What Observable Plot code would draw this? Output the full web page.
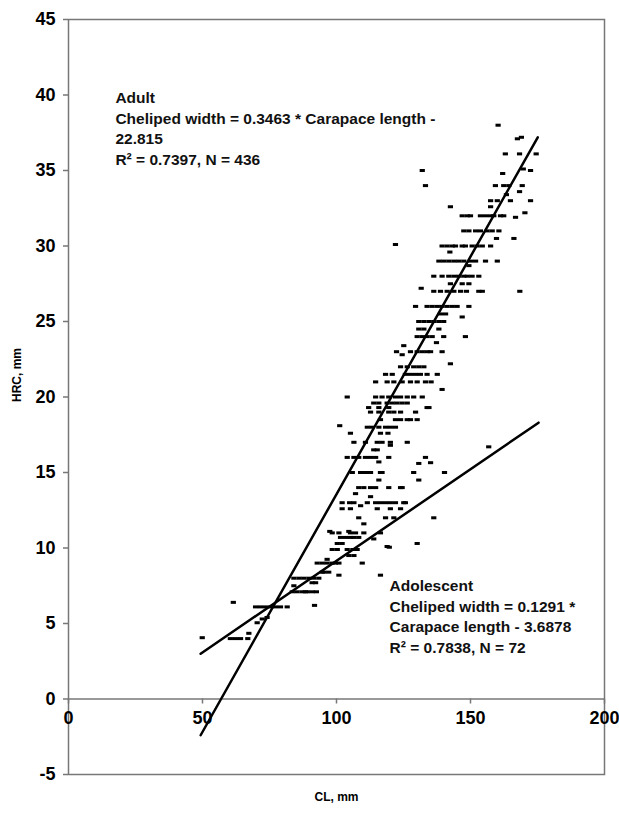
<!DOCTYPE html>
<html><head><meta charset="utf-8">
<script src="https://cdn.jsdelivr.net/npm/d3@7"></script>
<script src="https://cdn.jsdelivr.net/npm/@observablehq/plot@0.6"></script>
<style>body{margin:0;background:#fff;} #chart svg{display:block;}</style>
</head><body><div id="chart"></div>
<script>
// ---- data ----
const xTicks = [0, 50, 100, 150, 200];
const yTicks = [-5, 0, 5, 10, 15, 20, 25, 30, 35, 40, 45];

// scatter points: carapace length (CL, mm) and HRC (mm)
const pointCL = [
  160.3, 167.5, 169, 163, 168.3, 174.5,
  132, 162, 169.7, 172.4,
  133.2, 159.3, 162.4, 164.3, 169.3, 168.3,
  157.5, 160, 163.4, 164.9, 172.4, 142.5, 157.5,
  146.9, 148.8, 150, 153.7, 155.6, 157.5, 158.7, 161.2, 162.4, 170.3, 166.8,
  147.5, 149.4, 151.9, 153.7, 156.2, 158.1, 160.6,
  159.7, 166.2, 122,
  139.4, 141.3, 143.2, 144.4, 146.9, 148.1, 150.6, 152.5, 154.4, 157.5,
  138.2, 140, 141.9, 143.8, 145.6, 147.5, 150, 151.9, 155.6, 160,
  149.4, 142.3,
  136.3, 139.4, 141.9, 143.8, 145.6, 147.5, 148.8, 150.6, 153.1,
  142.5, 146.9, 149.4, 131.6,
  136.3, 138.8, 141.3, 143.8, 146.3, 148.5, 153.1, 154.4, 168.4,
  129.5, 133.8, 135.7, 137.6, 139.4, 141.3, 143.2, 145, 149.4,
  138.8, 140.7, 146.9,
  130.7, 132.6, 134.5, 136.3, 138.2, 140,
  130.7, 132.6, 138.2,
  130.1, 132, 133.8, 135.7, 140, 148.1,
  137.3, 125.1,
  127.6, 130.1, 132, 133.8, 135.1, 139.4, 122.4,
  124.5,
  123.9, 126.4, 128.8, 130.7, 132.6, 142.5,
  118.3, 120.8, 125.7, 127.6, 129.5, 131.3, 133.8, 137.6,
  114.6, 118.9, 121.4, 124.5, 127.6, 130.1, 133.2, 135.3,
  139.4,
  104, 114.6, 117, 119.5, 122, 123.9, 126.4, 128.8, 132,
  113.9, 115.8, 118.9, 120.8, 122.6, 124.5, 126.4,
  112, 115.8, 119.5, 133.8, 134.5,
  112.7, 115.8, 119.5, 121.4, 123.9, 129.5,
  116.4, 122, 123.9, 126.4, 130.1, 127.6,
  101.2,
  111.5, 113.3, 115.8, 118.3, 120.1, 122,
  105.2, 116.4, 119.2,
  106.5, 110.8, 115.2, 117, 120.1, 126.4,
  120.1, 156.8,
  113.9, 115.2,
  104, 106.5, 108.3, 110.8, 112.7, 114.6, 119.5, 133.2,
  115.8, 135.1, 130.7,
  105.9, 109, 110.8, 112.7, 116.4, 117, 128.8, 140.3,
  115.8, 130.7,
  108.3, 110.2, 112.7, 114.6, 119.5, 123.9, 124.5,
  107.1, 112.7,
  102.1, 104.9, 106.5, 111.5, 114.6, 116.4, 118.3, 120.1, 122, 125.1, 125.7,
  109,
  102.1, 105.2, 115.2, 120.1, 123.9,
  108.3, 118.3, 121.4, 136.3,
  110.2,
  98.4, 100.9, 105.2, 107.1, 110.2, 116.4, 97.5, 104.6,
  101.5, 103.4, 105.2, 106.5, 108.3, 113.9,
  100.3, 102.1, 130.1,
  119.7, 118.9,
  98.4, 100.3, 104, 106.1, 107.7,
  104.6, 106.5,
  92.8, 94.7, 96.5, 98.4, 99.6, 100.9, 109.6, 96.5,
  94.7, 95.3, 97.1,
  100.9, 116.4,
  84.1, 86, 87.8, 89.7, 91.5, 93.4,
  90.9, 92.2,
  84.1,
  83.5, 85.3, 87.2, 88.4, 89.1, 90.9, 92.5,
  61.5,
  69.8, 71.6, 73.5, 75.4, 77.2, 79.1, 81.6, 91.8,
  74.1, 72.3, 70.4,
  49.9, 60.4, 62.3, 64.2, 66.9, 67.3
];
const pointHRC = [
  38, 37.1, 37.2, 36.1, 36.1, 36.1,
  35, 34.8, 35.1, 35,
  34, 34, 34, 34, 34, 33.6,
  33, 33, 33.4, 33, 33, 32.6, 32.6,
  32, 32, 32, 32, 32, 32, 32, 32, 32, 32.2, 31.9,
  31, 31, 31, 31, 31, 31, 31,
  30.5, 30.5, 30.1,
  30, 30, 30, 30, 30, 30, 30, 30, 30, 30,
  29, 29, 29, 29, 29, 29, 29, 29, 29, 29,
  28.7, 29.6,
  28, 28, 28, 28, 28, 28, 28, 28, 28,
  27.5, 27.5, 27.5, 27.2,
  27, 27, 27, 27, 27, 27, 27, 27, 27,
  26, 26, 26, 26, 26, 26, 26, 26, 26,
  25.5, 25.5, 25.3,
  25, 25, 25, 25, 25, 25,
  24.5, 24.5, 24.5,
  24, 24, 24, 24, 24, 24,
  23.6, 23.4,
  23, 23, 23, 23, 23, 23, 23,
  22.8,
  22, 22, 22, 22, 22, 22.2,
  21.5, 21.5, 21.5, 21.5, 21.5, 21.5, 21.5, 21.5,
  21, 21, 21, 21, 21, 21, 21, 21,
  20.5,
  20, 20, 20, 20, 20, 20, 20, 20, 20,
  19.6, 19.6, 19.6, 19.6, 19.6, 19.6, 19.6,
  19.3, 19.3, 19.3, 19.3, 19.3,
  19, 19, 19, 19, 19, 19,
  18.5, 18.5, 18.5, 18.5, 18.5, 18.5,
  18.1,
  18, 18, 18, 18, 18, 18,
  17.6, 17.6, 17.6,
  17, 17, 17, 17, 17, 17,
  16.8, 16.7,
  16.5, 16.5,
  16, 16, 16, 16, 16, 16, 16, 16,
  15.7, 15.65, 15.6,
  15, 15, 15, 15, 15, 15, 15, 15,
  14.5, 14.5,
  14, 14, 14, 14, 14, 14, 14,
  13.6, 13.4,
  13, 13, 13, 13, 13, 13, 13, 13, 13, 13, 13,
  12.8,
  12.6, 12.6, 12.6, 12.6, 12.6,
  12, 12, 12, 12,
  11.6,
  11, 11, 11, 11, 11, 11, 11.1, 11.1,
  10.7, 10.7, 10.7, 10.7, 10.7, 10.6,
  10.3, 10.3, 10.3,
  10.05, 10.1,
  9.9, 9.9, 9.9, 9.9, 9.9,
  9.5, 9.5,
  9, 9, 9, 9, 9, 9, 9, 9.25,
  8.4, 8.4, 8.4,
  8.2, 8.2,
  8, 8, 8, 8, 8, 8,
  7.7, 7.7,
  7.5,
  7.1, 7.1, 7.1, 7.1, 7.1, 7.1, 7.1,
  6.4,
  6.1, 6.1, 6.1, 6.1, 6.1, 6.1, 6.1, 6.2,
  5.4, 5.3, 5.05,
  4.06, 4, 4, 4, 4, 4.35
];

// fitted lines as drawn (end points)
const lineGroup = ["Adult", "Adult", "Adolescent", "Adolescent"];
const lineCL = [49.3, 175.1, 49.3, 175.4];
const lineHRC = [-2.4, 37.2, 3.0, 18.3];

// annotations
const noteCL = [17.5, 119.8];
const noteHRC = [40.4, 8.1];
const noteText = [
  "Adult\nCheliped width = 0.3463 * Carapace length -\n22.815\nR² = 0.7397, N = 436",
  "Adolescent\nCheliped width = 0.1291 *\nCarapace length - 3.6878\nR² = 0.7838, N = 72"
];

// ---- build tables ----
const points = pointCL.map((x, i) => ({x, y: pointHRC[i]}));
const lines = lineCL.map((x, i) => ({x, y: lineHRC[i], g: lineGroup[i]}));
const notes = noteText.map((t, i) => ({x: noteCL[i], y: noteHRC[i], t}));

const dash = {
  draw(ctx) {
    ctx.moveTo(-2.6, -1.5); ctx.lineTo(2.6, -1.5);
    ctx.lineTo(2.6, 1.5); ctx.lineTo(-2.6, 1.5); ctx.closePath();
  }
};

const font = "'Liberation Sans', Arial, Helvetica, sans-serif";
const axisGray = "#777";
const plain = d => String(d);

const chart = Plot.plot({
  width: 619,
  height: 814,
  marginLeft: 68,
  marginRight: 15,
  marginTop: 19,
  marginBottom: 40,
  style: {fontFamily: font, background: "#fff", color: "#000"},
  x: {domain: [0, 200]},
  y: {domain: [-5, 45]},
  marks: [
    Plot.frame({stroke: axisGray, strokeWidth: 1.5}),
    Plot.ruleY([0], {stroke: axisGray, strokeWidth: 1.5}),
    Plot.axisY(yTicks, {anchor: "left", tickSize: 5, tickPadding: 8, fontSize: 18, fontWeight: "bold",
      stroke: axisGray, strokeWidth: 1.5, fill: "#000", label: null, tickFormat: plain}),
    Plot.axisX(xTicks, {anchor: "bottom", dy: -75.5, tickSize: 5, tickPadding: 7, fontSize: 18, fontWeight: "bold",
      stroke: axisGray, strokeWidth: 1.5, fill: "#000", label: null, tickFormat: plain}),
    Plot.dot(points, {x: "x", y: "y", symbol: dash, fill: "#000", stroke: null}),
    Plot.line(lines, {x: "x", y: "y", z: "g", stroke: "#000", strokeWidth: 2.5}),
    Plot.text(notes, {x: "x", y: "y", text: "t", textAnchor: "start", lineAnchor: "top",
      fontSize: 15.5, fontWeight: "bold", lineHeight: 1.32, fill: "#111"}),
    Plot.text(["HRC, mm"], {frameAnchor: "left", dx: -51, dy: 5, rotate: -90, fontSize: 12, fontWeight: "bold"}),
    Plot.text(["CL, mm"], {frameAnchor: "bottom", dy: 26, fontSize: 12, fontWeight: "bold"})
  ]
});
document.getElementById("chart").appendChild(chart);
</script>
</body></html>
